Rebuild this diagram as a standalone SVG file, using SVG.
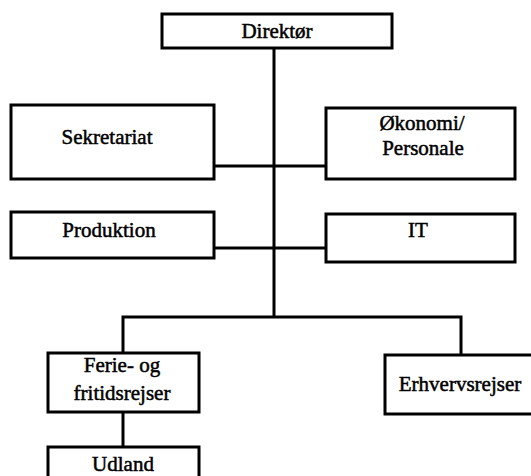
<svg xmlns="http://www.w3.org/2000/svg" width="531" height="476" viewBox="0 0 531 476">
<style>
.box{fill:#fff;stroke:#000;stroke-width:3}
.ln{fill:none;stroke:#000;stroke-width:3}
text{font-family:"Liberation Serif","Times New Roman",serif;font-size:21px;fill:#000;stroke:#000;stroke-width:0.5;text-anchor:middle}
</style>
<rect width="531" height="476" fill="#fff"/>
<g id="connectors">
<path class="ln" d="M274 48V317"/>
<path class="ln" d="M214 166H326"/>
<path class="ln" d="M214 248H326"/>
<path class="ln" d="M123 352V317H461V354"/>
<path class="ln" d="M123 412V447"/>
</g>
<g id="direktor"><rect class="box" x="162" y="14" width="230" height="34"/><text x="277" y="38">Direktør</text></g>
<g id="sekretariat"><rect class="box" x="11" y="105" width="203" height="74"/><text x="107" y="144">Sekretariat</text></g>
<g id="okonomi"><rect class="box" x="326" y="108" width="189" height="71"/><text x="422" y="130">Økonomi/</text><text x="423" y="155">Personale</text></g>
<g id="produktion"><rect class="box" x="11" y="212" width="203" height="46"/><text x="109" y="237">Produktion</text></g>
<g id="it"><rect class="box" x="326" y="214" width="189" height="48"/><text x="418" y="237">IT</text></g>
<g id="ferie"><rect class="box" x="48" y="353" width="151" height="59"/><text x="122" y="372">Ferie- og</text><text x="122" y="400">fritidsrejser</text></g>
<g id="erhverv"><rect class="box" x="385" y="355" width="150" height="59"/><text x="460" y="391">Erhvervsrejser</text></g>
<g id="udland"><rect class="box" x="48" y="447" width="151" height="40"/><text x="123" y="471">Udland</text></g>
</svg>
